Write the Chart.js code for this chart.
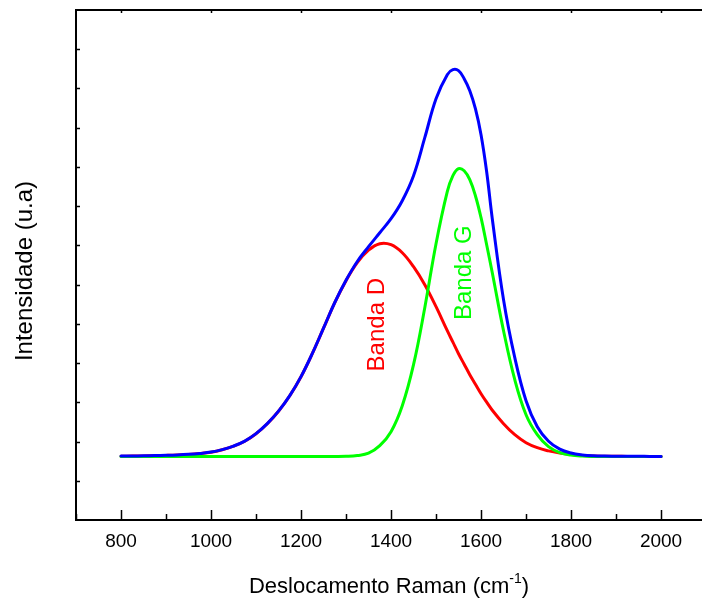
<!DOCTYPE html>
<html>
<head>
<meta charset="utf-8">
<script src="https://cdn.jsdelivr.net/npm/chart.js@4/dist/chart.umd.min.js"></script>
<style>
  body { margin: 0; background: #fff; }
  canvas { display: block; }
</style>
</head>
<body>
<canvas id="ramanChart" width="702" height="601"></canvas>
<script>
// Raman shift (cm-1)
const wavenumber = [800, 825, 850, 875, 900, 925, 950, 975,
  1000, 1025, 1050, 1075, 1100, 1125, 1150, 1175,
  1200, 1225, 1250, 1275, 1300, 1325, 1350, 1375,
  1400, 1425, 1450, 1475, 1500, 1525,
  1537.5, 1550, 1562.5, 1575, 1587.5, 1600, 1612.5, 1625,
  1650, 1675, 1700, 1725, 1750, 1775, 1800, 1825,
  1850, 1875, 1900, 1925, 1950, 1975, 2000]

// intensities (a.u., baseline = 0)
const bandaD = [0.5, 0.6, 0.8, 1.0, 1.3, 1.7, 2.3, 3.2,
  4.5, 7, 10.5, 15.5, 23, 33, 45.5, 61,
  80, 103, 128.5, 154, 176, 194, 206.5, 213,
  212, 204, 190, 172, 150, 126,
  114.5, 103, 92.5, 82, 72.5, 63, 54.5, 46.5,
  33, 22, 14, 9, 5.8, 3.6, 2.1, 1.2,
  0.7, 0.5, 0.4, 0.3, 0.3, 0.2, 0.2]

const bandaG = [0.1, 0.1, 0.1, 0.1, 0.1, 0.1, 0.1, 0.1,
  0.1, 0.1, 0.1, 0.1, 0.1, 0.1, 0.1, 0.1,
  0.1, 0.1, 0.1, 0.2, 0.4, 1.2, 3.5, 11,
  25, 51, 92, 149, 213, 265,
  281, 288, 286, 277, 261, 239, 212, 184,
  126, 77, 42, 22, 10, 4, 1.6, 0.6,
  0.2, 0.1, 0.1, 0.1, 0.1, 0.1, 0.1]

const total = [0.6, 0.7, 0.9, 1.1, 1.4, 1.8, 2.4, 3.3,
  4.6, 7.1, 10.6, 15.6, 23.1, 33.1, 45.6, 61.1,
  80.1, 103.1, 128.6, 154.2, 176.4, 195.2, 210, 224,
  238, 256, 281, 319, 358, 382,
  387, 386, 378, 366, 348, 322, 285, 238,
  157, 99, 56, 30, 15.5, 7.6, 3.7, 1.8,
  0.9, 0.6, 0.5, 0.4, 0.4, 0.3, 0.3]

const xMajorTicks = [800, 1000, 1200, 1400, 1600, 1800, 2000]
const xMinorTicks = [700, 900, 1100, 1300, 1500, 1700, 1900]
const yMin = -63.3
const yMax = 446.7
const yTickStep = 39.23

const FONT = '"Liberation Sans", Arial, sans-serif'

function toPoints(ys) {
  return ys.map((y, i) => ({ x: wavenumber[i], y: y }))
}

const frameAndText = {
  id: 'frameAndText',
  afterDraw(chart) {
    const ctx = chart.ctx
    const area = chart.chartArea
    const xs = chart.scales.x
    const ys = chart.scales.y
    ctx.save()
    ctx.strokeStyle = '#000'
    ctx.lineWidth = 2
    ctx.beginPath()
    ctx.moveTo(area.left, area.top)
    ctx.lineTo(area.left, area.bottom)
    ctx.moveTo(area.left - 1, area.bottom)
    ctx.lineTo(area.right, area.bottom)
    ctx.moveTo(area.left - 1, area.top)
    ctx.lineTo(area.right, area.top)
    ctx.stroke()

    // inward ticks
    ctx.lineWidth = 1.5
    ctx.beginPath()
    xMajorTicks.forEach(v => {
      const px = Math.round(xs.getPixelForValue(v)) + 0.5
      ctx.moveTo(px, area.bottom)
      ctx.lineTo(px, area.bottom - 10)
      ctx.moveTo(px, area.top)
      ctx.lineTo(px, area.top + 3)
    })
    xMinorTicks.forEach(v => {
      const px = Math.round(xs.getPixelForValue(v)) + 0.5
      ctx.moveTo(px, area.bottom)
      ctx.lineTo(px, area.bottom - 6)
    })
    for (let v = yMin + yTickStep; v < yMax - 1; v += yTickStep) {
      const py = Math.round(ys.getPixelForValue(v)) + 0.5
      ctx.moveTo(area.left, py)
      ctx.lineTo(area.left + 4, py)
    }
    ctx.stroke()

    // tick labels
    ctx.fillStyle = '#000'
    ctx.font = '19px ' + FONT
    ctx.textAlign = 'center'
    ctx.textBaseline = 'middle'
    xMajorTicks.forEach(v => {
      ctx.fillText(String(v), xs.getPixelForValue(v), 542)
    })

    // x title with superscript
    const mainTxt = 'Deslocamento Raman (cm'
    const supTxt = '-1'
    const endTxt = ')'
    ctx.textBaseline = 'alphabetic'
    ctx.textAlign = 'left'
    ctx.font = '22px ' + FONT
    const w1 = ctx.measureText(mainTxt).width
    const w3 = ctx.measureText(endTxt).width
    ctx.font = '14px ' + FONT
    const w2 = ctx.measureText(supTxt).width
    let x0 = (area.left + area.right) / 2 - (w1 + w2 + w3) / 2
    ctx.font = '22px ' + FONT
    ctx.fillText(mainTxt, x0, 593)
    ctx.font = '14px ' + FONT
    ctx.fillText(supTxt, x0 + w1, 583)
    ctx.font = '22px ' + FONT
    ctx.fillText(endTxt, x0 + w1 + w2, 593)

    // y title
    ctx.save()
    ctx.translate(25, 271)
    ctx.rotate(-Math.PI / 2)
    ctx.font = '24px ' + FONT
    ctx.textAlign = 'center'
    ctx.textBaseline = 'middle'
    ctx.fillText('Intensidade (u.a)', 0, 0)
    ctx.restore()

    // band labels
    ctx.font = '24px ' + FONT
    ctx.textAlign = 'center'
    ctx.textBaseline = 'middle'
    ctx.save()
    ctx.translate(xs.getPixelForValue(1369), ys.getPixelForValue(132))
    ctx.rotate(-Math.PI / 2)
    ctx.fillStyle = '#ff0000'
    ctx.fillText('Banda D', 0, 0)
    ctx.restore()
    ctx.save()
    ctx.translate(xs.getPixelForValue(1562), ys.getPixelForValue(184))
    ctx.rotate(-Math.PI / 2)
    ctx.fillStyle = '#00ff00'
    ctx.fillText('Banda G', 0, 0)
    ctx.restore()

    ctx.restore()
  }
}

const ctx = document.getElementById('ramanChart').getContext('2d')
new Chart(ctx, {
  type: 'line',
  data: {
    datasets: [
      { label: 'Soma', data: toPoints(total), borderColor: '#0000ff', borderWidth: 3 },
      { label: 'Banda G', data: toPoints(bandaG), borderColor: '#00ff00', borderWidth: 3 },
      { label: 'Banda D', data: toPoints(bandaD), borderColor: '#ff0000', borderWidth: 3 }
    ]
  },
  options: {
    responsive: false,
    animation: false,
    events: [],
    elements: {
      point: { radius: 0 },
      line: { tension: 0.4, fill: false, borderCapStyle: 'round' }
    },
    layout: { padding: { left: 76, top: 10, right: 0, bottom: 81 } },
    scales: {
      x: { type: 'linear', min: 700, max: 2091, display: false },
      y: { type: 'linear', min: yMin, max: yMax, display: false }
    },
    plugins: {
      legend: { display: false },
      tooltip: { enabled: false }
    }
  },
  plugins: [frameAndText]
})
</script>
</body>
</html>
